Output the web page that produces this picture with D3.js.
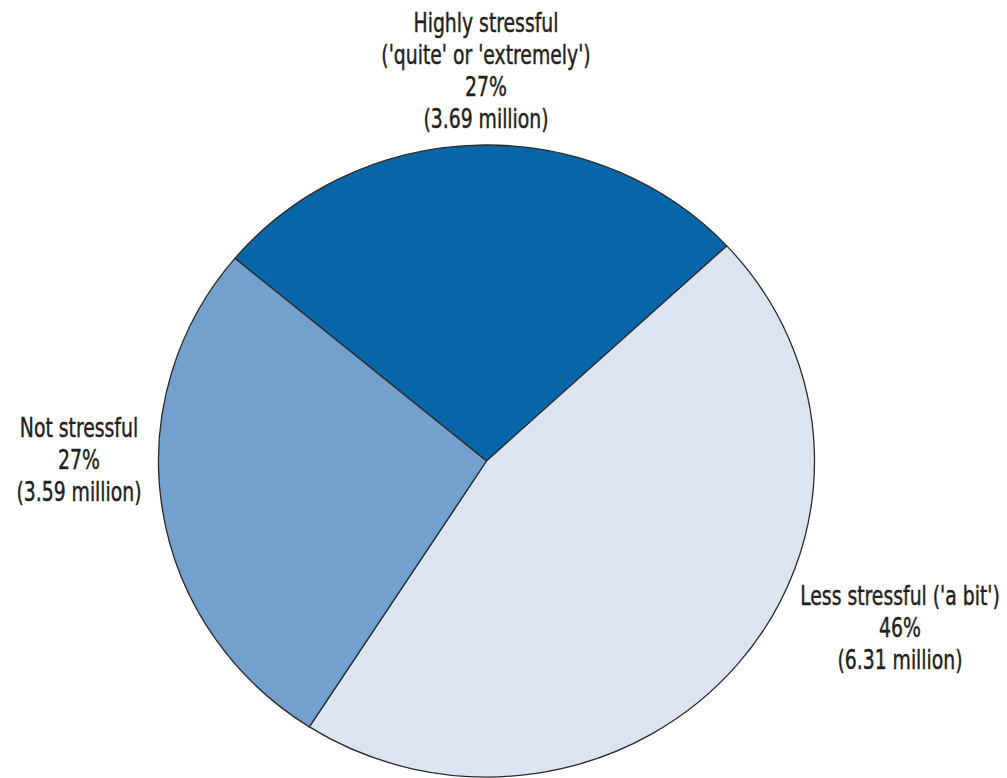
<!DOCTYPE html>
<html>
<head>
<meta charset="utf-8">
<script src="https://cdn.jsdelivr.net/npm/d3@7"></script>
<style>
  html, body { margin: 0; padding: 0; background: #ffffff; }
  svg { display: block; }
  text { font-family: "Liberation Sans Narrow", "DejaVu Sans Condensed", "DejaVu Sans", sans-serif; font-stretch: condensed; fill: #231f20; stroke: #231f20; stroke-width: 0.45px; }
</style>
</head>
<body>
<div id="chart"></div>
<script>
// ---- data ----
const categories = ["Highly stressful", "Less stressful", "Not stressful"];
const percents = [27, 46, 27];
const millions = [3.69, 6.31, 3.59];
const labelLines = [
  ["Highly stressful", "('quite' or 'extremely')", "27%", "(3.69 million)"],
  ["Less stressful ('a bit')", "46%", "(6.31 million)"],
  ["Not stressful", "27%", "(3.59 million)"]
];
const colors = ["#0766a8", "#dbe4f0", "#73a0cd"];

// ---- layout ----
const W = 1007, H = 778;
const cx = 486.5, cy = 461;
const rx = 328, ry = 316;
const startDeg = -50.1;

const svg = d3.select("#chart").append("svg")
  .attr("width", W).attr("height", H);

const color = d3.scaleOrdinal().domain(categories).range(colors);

const data = categories.map((c, i) => ({ cat: c, pct: percents[i], mil: millions[i], lines: labelLines[i] }));

const pie = d3.pie()
  .sort(null)
  .value(d => d.pct)
  .startAngle(startDeg * Math.PI / 180)
  .endAngle(startDeg * Math.PI / 180 + 2 * Math.PI);

const arc = d3.arc().innerRadius(0).outerRadius(rx);

const g = svg.append("g")
  .attr("transform", `translate(${cx},${cy}) scale(1,${ry / rx})`);

g.selectAll("path")
  .data(pie(data))
  .join("path")
  .attr("d", arc)
  .attr("fill", d => color(d.data.cat))
  .attr("stroke", "#2a2a2a")
  .attr("stroke-width", 1.3)
  .attr("stroke-linejoin", "round")
  .attr("vector-effect", "non-scaling-stroke");

// label anchor positions (layout)
const labelPos = {
  "Highly stressful": { x: 486, y: 32 },
  "Less stressful": { x: 900, y: 605 },
  "Not stressful": { x: 79, y: 437 }
};
const lineGap = 32;

const labels = svg.append("g").selectAll("text")
  .data(data)
  .join("text")
  .attr("text-anchor", "middle")
  .attr("font-size", 26)
  .attr("x", d => labelPos[d.cat].x)
  .attr("y", d => labelPos[d.cat].y);

labels.selectAll("tspan")
  .data(d => d.lines.map(t => ({ t, x: labelPos[d.cat].x })))
  .join("tspan")
  .attr("x", d => d.x)
  .attr("dy", (d, i) => i === 0 ? 0 : lineGap)
  .text(d => d.t);

// horizontally condense text to match the reference's narrow typeface
const refWidth = 145; // width of "Highly stressful" in reference
const firstSpan = labels.filter((d, i) => i === 0).select("tspan").node();
const natural = firstSpan.getComputedTextLength();
const k = Math.min(1, refWidth / natural);
labels.attr("transform", d => {
  const x = labelPos[d.cat].x;
  return `translate(${x},0) scale(${k},1) translate(${-x},0)`;
});
</script>
</body>
</html>
